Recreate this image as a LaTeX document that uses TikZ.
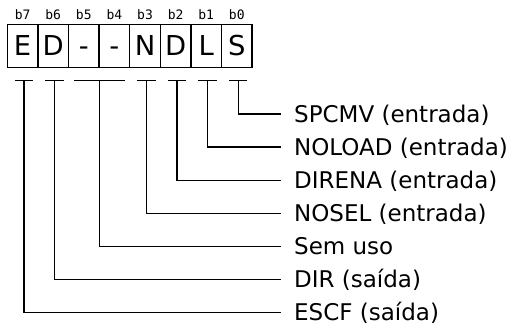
\documentclass[tikz,border=0pt]{standalone}
\usepackage{fontspec}
\setmainfont{DejaVu Sans}
\newfontfamily\bitfont{DejaVu Sans Mono}
\begin{document}
\begin{tikzpicture}[x=1pt,y=-1pt,line width=1.3pt,
  cell/.style={draw,minimum width=30.6pt,minimum height=43.4pt,inner sep=0pt,
    text height=20pt,text depth=0pt,font=\fontsize{27.4}{27.4}\selectfont},
  bitlbl/.style={anchor=base,inner sep=0pt,font=\bitfont\fontsize{13}{13}\selectfont},
  desc/.style={anchor=west,inner xsep=12.5pt,inner ysep=0pt,text height=16.8pt,text depth=0pt,
    font=\fontsize{23}{23}\selectfont},
  conn/.style={line width=1.3pt,line join=miter}]
\useasboundingbox (0,0) rectangle (531,328);
% cells and bit labels
\foreach \i/\t [count=\k from 0] in {7/E,6/D,5/-,4/-,3/N,2/D,1/L,0/S}{
  \node[cell] (c\i) at (22.6+\k*30.6,46) {\t};
  \node[bitlbl] (b\i) at (22.6+\k*30.6,20) {b\i};
}
% T coordinates
\foreach \i in {7,6,3,2,1,0}{
  \path (c\i.center) ++(1.4,34.7) coordinate (t\i);
}
\path (c5.east) ++(0,34.7) coordinate (t54);
% descriptions
\node[desc] (l0) at (281,114) {SPCMV (entrada)};
\node[desc] (l1) at (281,147.1) {NOLOAD (entrada)};
\node[desc] (l2) at (281,180.2) {DIRENA (entrada)};
\node[desc] (l3) at (281,213.3) {NOSEL (entrada)};
\node[desc] (l54) at (281,246.4) {Sem uso};
\node[desc] (l6) at (281,279.5) {DIR (saída)};
\node[desc] (l7) at (281,312.6) {ESCF (saída)};
% T bars with connectors
\foreach \n in {0,1,2,3,6,7}{
  \draw[conn] ([xshift=-9.2pt]t\n) -- ([xshift=9.2pt]t\n) (t\n) |- (l\n.west);
}
\draw[conn] ([xshift=-25.5pt]t54) -- ([xshift=25.5pt]t54) (t54) |- (l54.west);
\end{tikzpicture}
\end{document}
